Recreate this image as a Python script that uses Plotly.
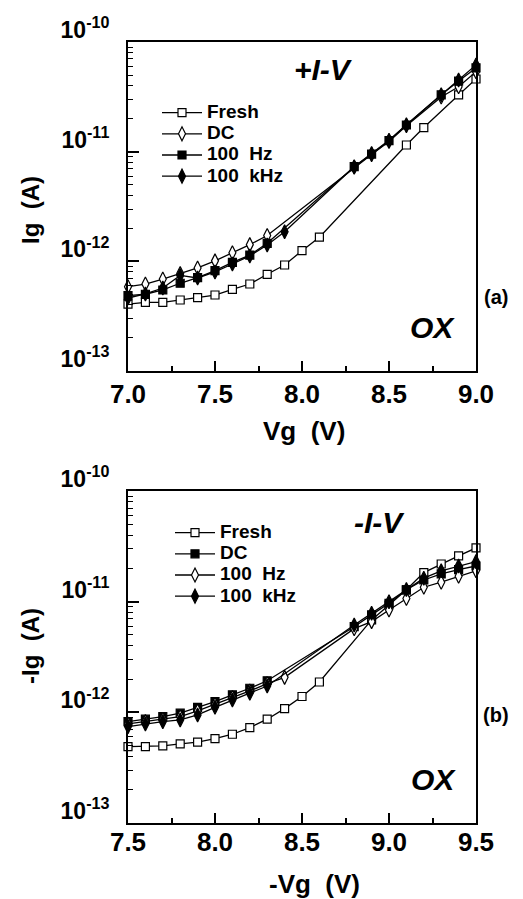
import plotly.graph_objects as go

# ---------------- data: panel (a) +I-V ----------------
a_fresh_x = [7.0, 7.1, 7.2, 7.3, 7.4, 7.5, 7.6, 7.7, 7.8, 7.9, 8.0, 8.1, 8.6, 8.7, 8.9, 9.0]
a_fresh_y = [4.08e-13, 4.22e-13, 4.22e-13, 4.44e-13, 4.66e-13, 4.93e-13, 5.56e-13, 6.21e-13,
             7.62e-13, 9.26e-13, 1.25e-12, 1.66e-12, 1.15e-11, 1.66e-11, 3.29e-11, 4.60e-11]

a_dc_x = [7.0, 7.1, 7.2, 7.3, 7.4, 7.5, 7.6, 7.7, 7.8, 8.3, 8.4, 8.5, 8.6, 8.8, 8.9, 9.0]
a_dc_y = [5.87e-13, 6.21e-13, 6.90e-13, 7.75e-13, 8.70e-13, 1.01e-12, 1.20e-12, 1.42e-12,
          1.72e-12, 7.2e-12, 9.4e-12, 1.24e-11, 1.72e-11, 3.15e-11, 3.91e-11, 5.36e-11]

a_hz_x = [7.0, 7.1, 7.2, 7.3, 7.4, 7.5, 7.6, 7.7, 7.8, 8.3, 8.4, 8.5, 8.6, 8.8, 8.9, 9.0]
a_hz_y = [4.86e-13, 5.01e-13, 5.48e-13, 6.31e-13, 7.10e-13, 8.22e-13, 9.80e-13, 1.14e-12,
          1.46e-12, 7.3e-12, 9.5e-12, 1.26e-11, 1.75e-11, 3.3e-11, 4.4e-11, 5.8e-11]

a_khz_x = [7.0, 7.1, 7.2, 7.3, 7.4, 7.5, 7.6, 7.7, 7.8, 7.9, 8.3, 8.4, 8.5, 8.6, 8.8, 8.9, 9.0]
a_khz_y = [4.63e-13, 5.04e-13, 5.71e-13, 7.43e-13, 7.05e-13, 8.00e-13, 9.46e-13, 1.12e-12,
           1.41e-12, 1.86e-12, 7.3e-12, 9.6e-12, 1.27e-11, 1.76e-11, 3.3e-11, 4.5e-11, 6.17e-11]

# ---------------- data: panel (b) -I-V ----------------
b_fresh_x = [7.5, 7.6, 7.7, 7.8, 7.9, 8.0, 8.1, 8.2, 8.3, 8.4, 8.5, 8.6, 8.9, 9.0, 9.1, 9.2, 9.3, 9.4, 9.5]
b_fresh_y = [4.90e-13, 4.90e-13, 4.97e-13, 5.18e-13, 5.37e-13, 5.78e-13, 6.34e-13, 7.28e-13, 8.67e-13,
             1.08e-12, 1.39e-12, 1.88e-12, 6.84e-12, 9.33e-12, 1.28e-11, 1.83e-11, 2.19e-11, 2.59e-11, 3.06e-11]

b_dc_x = [7.5, 7.6, 7.7, 7.8, 7.9, 8.0, 8.1, 8.2, 8.3, 8.8, 8.9, 9.0, 9.1, 9.2, 9.3, 9.4, 9.5]
b_dc_y = [8.24e-13, 8.67e-13, 9.14e-13, 9.82e-13, 1.11e-12, 1.25e-12, 1.44e-12, 1.65e-12, 1.93e-12,
          5.94e-12, 7.6e-12, 9.67e-12, 1.28e-11, 1.57e-11, 1.78e-11, 1.95e-11, 2.1e-11]

b_hz_x = [7.5, 7.6, 7.7, 7.8, 7.9, 8.0, 8.1, 8.2, 8.3, 8.4, 8.8, 8.9, 9.0, 9.1, 9.2, 9.3, 9.4, 9.5]
b_hz_y = [7.86e-13, 8.24e-13, 8.67e-13, 9.14e-13, 1.03e-12, 1.18e-12, 1.36e-12, 1.56e-12, 1.82e-12,
          2.07e-12, 5.7e-12, 6.60e-12, 8.41e-12, 1.07e-11, 1.35e-11, 1.5e-11, 1.7e-11, 1.9e-11]

b_khz_x = [7.5, 7.6, 7.7, 7.8, 7.9, 8.0, 8.1, 8.2, 8.3, 8.8, 8.9, 9.0, 9.1, 9.2, 9.3, 9.4, 9.5]
b_khz_y = [7.43e-13, 7.86e-13, 8.24e-13, 8.54e-13, 9.47e-13, 1.11e-12, 1.29e-12, 1.49e-12, 1.73e-12,
           6.16e-12, 7.85e-12, 1.00e-11, 1.29e-11, 1.63e-11, 1.9e-11, 2.1e-11, 2.3e-11]

# tick labels
y_tickvals = [1e-13, 1e-12, 1e-11, 1e-10]
y_ticktext = ["10<sup>-13</sup>", "10<sup>-12</sup>", "10<sup>-11</sup>", "10<sup>-10</sup>"]
a_xtickvals = [7.0, 7.5, 8.0, 8.5, 9.0]
a_xticktext = ["7.0", "7.5", "8.0", "8.5", "9.0"]
b_xtickvals = [7.5, 8.0, 8.5, 9.0, 9.5]
b_xticktext = ["7.5", "8.0", "8.5", "9.0", "9.5"]

NBSP = "\u00a0"
FONT = "Liberation Sans, Arial, sans-serif"


def lg(name):
    return '<span style="font-size:19px">' + name + "</span>"


fig = go.Figure()


def add(x, y, name, symbol, fill, xa, ya, legend, size=8):
    fig.add_trace(go.Scatter(
        x=x, y=y, name=lg(name), mode="lines+markers", xaxis=xa, yaxis=ya, legend=legend,
        line=dict(color="black", width=1.3),
        marker=dict(symbol=symbol, size=size, color=fill, line=dict(color="black", width=1.2)),
        cliponaxis=False,
    ))


# panel (a)
add(a_fresh_x, a_fresh_y, "Fresh", "square", "white", "x", "y", "legend")
add(a_dc_x, a_dc_y, "DC", "diamond-tall", "white", "x", "y", "legend", 10)
add(a_hz_x, a_hz_y, "100" + NBSP + " Hz", "square", "black", "x", "y", "legend")
add(a_khz_x, a_khz_y, "100" + NBSP + " kHz", "diamond-tall", "black", "x", "y", "legend", 10)
# panel (b)
add(b_fresh_x, b_fresh_y, "Fresh", "square", "white", "x2", "y2", "legend2")
add(b_dc_x, b_dc_y, "DC", "square", "black", "x2", "y2", "legend2")
add(b_hz_x, b_hz_y, "100" + NBSP + " Hz", "diamond-tall", "white", "x2", "y2", "legend2", 10)
add(b_khz_x, b_khz_y, "100" + NBSP + " kHz", "diamond-tall", "black", "x2", "y2", "legend2", 10)

# plot area in pixels: left 128, right 476, top-panel y 42..371, bottom-panel y 491..823
ML, MR, MT, MB = 128, 47, 42, 76
W, H = 523, 899
PW = W - ML - MR
PH = H - MT - MB


def px(x):
    return (x - ML) / PW


def py(y):
    return (H - MB - y) / PH


ydom_a = [py(371), 1.0]
ydom_b = [0.0, py(491)]

minor_y = [m * 10.0 ** e for e in (-13, -12, -11) for m in range(2, 10)]

xaxis_common = dict(
    showline=True, linecolor="black", linewidth=2, mirror=True,
    ticks="inside", ticklen=10, tickwidth=1.5, tickcolor="black",
    showgrid=False, zeroline=False,
    tickfont=dict(family=FONT, size=26, color="black", weight="bold"),
    minor=dict(ticks="inside", ticklen=5, tickwidth=1.5, tickcolor="black", dtick=0.25, showgrid=False),
    tickmode="array",
)
yaxis_common = dict(
    type="log", range=[-13, -10],
    showline=True, linecolor="black", linewidth=2, mirror=True,
    ticks="inside", ticklen=11, tickwidth=1.5, tickcolor="black",
    showgrid=False, zeroline=False,
    tickmode="array", tickvals=y_tickvals, ticktext=y_ticktext,
    tickfont=dict(family=FONT, size=23, color="black", weight="bold"),
    ticklabelstandoff=12, ticklabelshift=-12,
    minor=dict(ticks="inside", ticklen=5, tickwidth=1.2, tickcolor="black", tickvals=minor_y, showgrid=False),
)

legend_common = dict(xanchor="left", yanchor="top", bgcolor="rgba(0,0,0,0)",
                     font=dict(family=FONT, size=14, color="black", weight="bold"),
                     tracegroupgap=0, itemwidth=40)

fig.update_layout(
    width=W, height=H,
    margin=dict(l=ML, r=MR, t=MT, b=MB, autoexpand=False),
    paper_bgcolor="white", plot_bgcolor="white",
    showlegend=True,
    xaxis=dict(xaxis_common, domain=[0, 1], range=[7.0, 9.0], anchor="y",
               tickvals=a_xtickvals, ticktext=a_xticktext, ticklabelstandoff=-1),
    yaxis=dict(yaxis_common, domain=ydom_a, anchor="x"),
    xaxis2=dict(xaxis_common, domain=[0, 1], range=[7.5, 9.5], anchor="y2",
                tickvals=b_xtickvals, ticktext=b_xticktext, ticklabelstandoff=-5),
    yaxis2=dict(yaxis_common, domain=ydom_b, anchor="x2"),
    legend=dict(legend_common, x=px(157), y=py(97)),
    legend2=dict(legend_common, x=px(170), y=py(517)),
)

ann_font = dict(family=FONT, color="black", weight="bold")


def note(text, x, y, size, angle=0, italic=False):
    fig.add_annotation(
        text=text, x=px(x), y=py(y), xref="paper", yref="paper", showarrow=False,
        xanchor="center", yanchor="middle", textangle=angle,
        font=dict(ann_font, size=size, style="italic" if italic else "normal"),
    )


note("+I-V", 323, 69, 30, italic=True)
note("OX", 432, 328, 30, italic=True)
note("(a)", 496, 297, 20)
note("-I-V", 379, 522, 30, italic=True)
note("OX", 433, 779, 30, italic=True)
note("(b)", 496, 715, 20)
note("Ig" + NBSP + NBSP + "(A)", 30, 210, 24, angle=-90)
note("-Ig" + NBSP + NBSP + "(A)", 30, 646, 24, angle=-90)
note("Vg" + NBSP + NBSP + "(V)", 304, 431, 26)
note("-Vg" + NBSP + NBSP + "(V)", 314, 884, 26)

fig.write_html("out.html")
